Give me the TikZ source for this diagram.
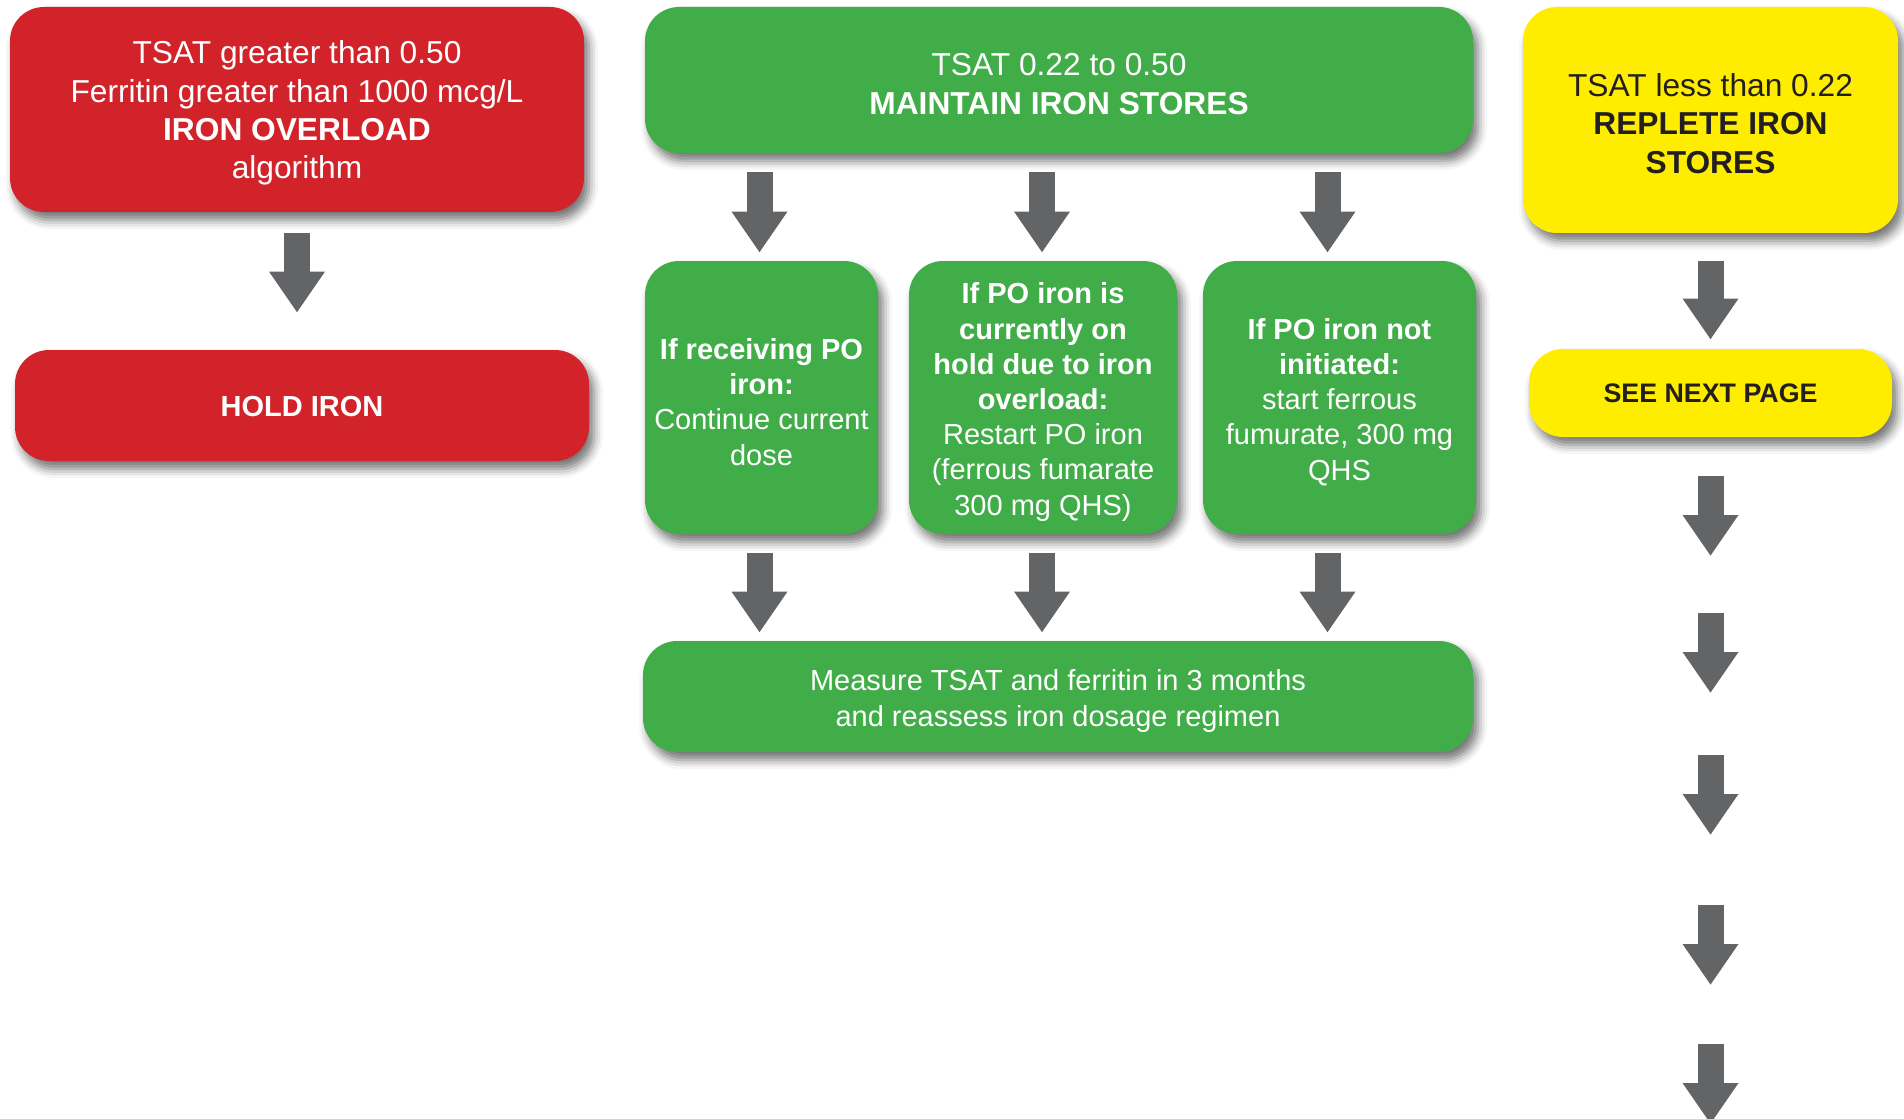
\documentclass[tikz,border=0pt]{standalone}
\usepackage{fontspec}
\setmainfont{Liberation Sans}
\usetikzlibrary{arrows.meta,shadows.blur}

\definecolor{ironred}{HTML}{D2232A}
\definecolor{irongreen}{HTML}{41AD49}
\definecolor{ironyellow}{HTML}{FFED00}
\definecolor{arrowgray}{HTML}{636466}
\definecolor{darktext}{HTML}{231F20}

\newcommand{\bigfont}{\fontsize{15.85}{19.2}\selectfont}
\newcommand{\smallfont}{\fontsize{14.5}{17.6}\selectfont}
\newcommand{\pagefont}{\fontsize{13.4}{16}\selectfont}
\newcommand{\topstrut}{\rule{0pt}{15pt}}

\tikzset{
  box/.style={rectangle, rounded corners=17pt, inner sep=0pt, align=center,
    blur shadow={shadow xshift=2.5pt, shadow yshift=-4pt, shadow blur radius=4.5pt, shadow opacity=55}},
  redbox/.style={box, fill=ironred, text=white, font=\bigfont},
  greenbox/.style={box, fill=irongreen, text=white, font=\bigfont},
  subbox/.style={greenbox, font=\smallfont, minimum height=136.5pt},
  yellowbox/.style={box, fill=ironyellow, text=darktext, font=\bigfont},
  bigarrow/.style={draw=arrowgray, line width=13pt, -{Triangle[width=26.5pt,length=20.5pt]}},
}

\begin{document}
\begin{tikzpicture}[x=0.5pt, y=-0.5pt]
  \useasboundingbox (0,0) rectangle (1904,1118);

  % left column
  \node[redbox, minimum width=287pt, minimum height=102.5pt] (overload) at (297,109.5)
    {\topstrut TSAT greater than 0.50\\ Ferritin greater than 1000 mcg/L\\ \textbf{IRON OVERLOAD}\\ algorithm};
  \node[redbox, font=\smallfont\bfseries, minimum width=287pt, minimum height=55.5pt] (hold) at (302,405.5) {\rule{0pt}{11.5pt}HOLD IRON};

  % middle column
  \node[greenbox, minimum width=414pt, minimum height=73pt] (maintain) at (1059,80)
    {\topstrut TSAT 0.22 to 0.50\\ \textbf{MAINTAIN IRON STORES}};
  \node[subbox, minimum width=116.5pt] (receiving) at (761.5,397.5)
    {\topstrut\textbf{If receiving PO}\\ \textbf{iron:}\\ Continue current\\ dose};
  \node[subbox, minimum width=134pt] (onhold) at (1043,397.5)
    {\topstrut\textbf{If PO iron is}\\ \textbf{currently on}\\ \textbf{hold due to iron}\\ \textbf{overload:}\\ Restart PO iron\\ (ferrous fumarate\\ 300 mg QHS)};
  \node[subbox, minimum width=136.5pt] (notinit) at (1339.5,397.5)
    {\topstrut\textbf{If PO iron not}\\ \textbf{initiated:}\\ start ferrous\\ fumurate, 300 mg\\ QHS};
  \node[greenbox, font=\smallfont, minimum width=415pt, minimum height=55.5pt] (measure) at (1058,696.5)
    {\topstrut Measure TSAT and ferritin in 3 months\\ and reassess iron dosage regimen};

  % right column
  \node[yellowbox, minimum width=187.5pt, minimum height=113pt] (replete) at (1710.5,120)
    {\topstrut TSAT less than 0.22\\ \textbf{REPLETE IRON}\\ \textbf{STORES}};
  \node[yellowbox, font=\pagefont\bfseries, minimum width=181.5pt, minimum height=44pt] (nextpage) at (1710.5,393) {SEE NEXT PAGE};

  % arrows
  \draw[bigarrow, shorten <=10.5pt, shorten >=18.5pt] (overload.south) -- (overload.south |- hold.north);
  \foreach \sub/\dx in {receiving/-1, onhold/-0.5, notinit/-6} {
    \draw[bigarrow, shorten <=9.5pt, shorten >=4pt] ([xshift=\dx pt]maintain.south -| \sub.north) -- ([xshift=\dx pt]\sub.north);
    \draw[bigarrow, shorten <=9.5pt, shorten >=4pt] ([xshift=\dx pt]\sub.south) -- ([xshift=\dx pt]measure.north -| \sub.south);
  }
  \draw[bigarrow, shorten <=14pt, shorten >=4.5pt] (replete.south) -- (nextpage.north);
  \foreach \y [count=\i] in {476,613,755,905,1044} {
    \coordinate (next\i) at (1710.5,\y);
    \draw[bigarrow] (next\i) -- ++(0,80);
  }
\end{tikzpicture}
\end{document}
